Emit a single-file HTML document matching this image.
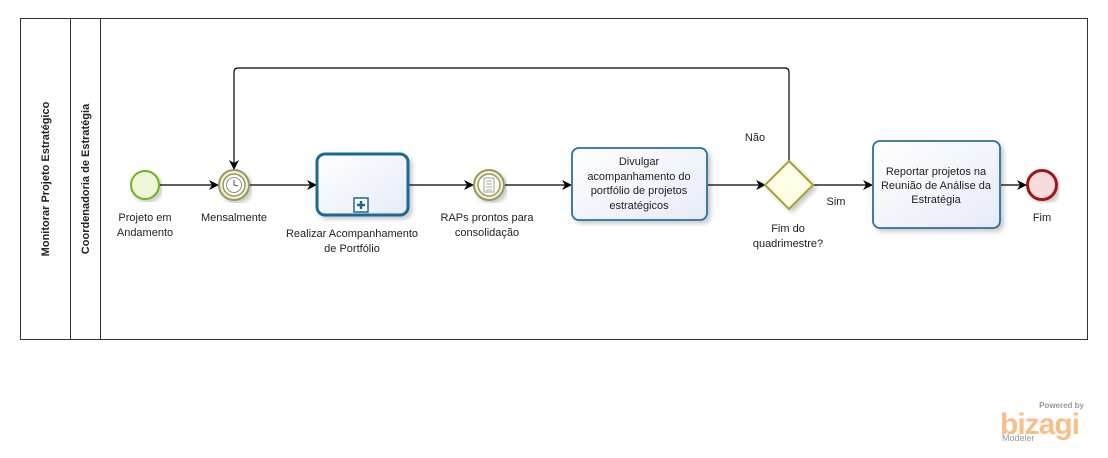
<!DOCTYPE html>
<html><head><meta charset="utf-8"><style>
body{margin:0;background:#fff;width:1108px;height:453px;overflow:hidden}
svg text{font-family:"Liberation Sans","DejaVu Sans",sans-serif;font-size:11px;fill:#222}
</style></head><body>
<svg width="1108" height="453" xmlns="http://www.w3.org/2000/svg">
<defs>
<marker id="a" markerWidth="10" markerHeight="10" refX="9" refY="5" orient="auto" markerUnits="userSpaceOnUse"><path d="M0,0 L10,5 L0,10 L3,5 Z" fill="#000"/></marker>
<linearGradient id="t" x1="0" y1="0" x2="1" y2="1"><stop offset="0" stop-color="#fff"/><stop offset="1" stop-color="#e6ebf8"/></linearGradient>
<filter id="s"><feDropShadow dx="3" dy="3" stdDeviation="2" flood-opacity="0.2"/></filter>
</defs>
<rect x="20.5" y="18.5" width="1067" height="321" fill="#fff" stroke="#333"/>
<line x1="70.5" y1="18" x2="70.5" y2="340" stroke="#333"/>
<line x1="100.5" y1="18" x2="100.5" y2="340" stroke="#333"/>
<text transform="translate(49,179) rotate(-90)" text-anchor="middle" font-weight="bold" style="font-size:11px">Monitorar Projeto Estratégico</text>
<text transform="translate(89,179) rotate(-90)" text-anchor="middle" font-weight="bold" style="font-size:11px">Coordenadoria de Estratégia</text>
<g stroke="#000" stroke-width="1.2" fill="none">
<line x1="160" y1="185" x2="218" y2="185" marker-end="url(#a)"/>
<line x1="250" y1="185" x2="316" y2="185" marker-end="url(#a)"/>
<line x1="409" y1="185" x2="473" y2="185" marker-end="url(#a)"/>
<line x1="505" y1="185" x2="571" y2="185" marker-end="url(#a)"/>
<line x1="708" y1="185" x2="765" y2="185" marker-end="url(#a)"/>
<line x1="813" y1="185" x2="872" y2="185" marker-end="url(#a)"/>
<line x1="1001" y1="185" x2="1026" y2="185" marker-end="url(#a)"/>
<path d="M789,161 V72 Q789,68 785,68 H238 Q234,68 234,72 V169" marker-end="url(#a)"/>
</g>
<circle cx="145" cy="185" r="14" fill="#eef8d8" stroke="#6bb31e" stroke-width="2" filter="url(#s)"/>
<g filter="url(#s)"><circle cx="234" cy="185" r="15" fill="#f2efd8" stroke="#9a9860" stroke-width="2"/></g>
<circle cx="234" cy="185" r="11" fill="#fff" stroke="#9a9860" stroke-width="1.5"/>
<circle cx="234" cy="185" r="7.5" fill="#fff" stroke="#777" stroke-width="0.8"/>
<path d="M234,180 V185 L238,186" stroke="#555" fill="none"/>
<rect x="317" y="154" width="91" height="61" rx="8" fill="url(#t)" stroke="#1d6796" stroke-width="3" filter="url(#s)"/>
<rect x="354" y="198" width="14" height="14" fill="#fff" stroke="#1d6796" stroke-width="1.5"/>
<path d="M361,201 V209 M357,205 H365" stroke="#1d6796" stroke-width="2.5"/>
<g filter="url(#s)"><circle cx="489" cy="185" r="15" fill="#f2efd8" stroke="#9a9860" stroke-width="2"/></g>
<circle cx="489" cy="185" r="11" fill="#fff" stroke="#9a9860" stroke-width="1.5"/>
<rect x="484" y="178" width="10" height="14" fill="#fff" stroke="#888" stroke-width="0.8"/>
<path d="M486,181H492M486,184H492M486,187H492M486,190H492" stroke="#888" stroke-width="0.7"/>
<rect x="572" y="148" width="135" height="72" rx="7" fill="url(#t)" stroke="#2a6fa0" stroke-width="1.8" filter="url(#s)"/>
<path d="M789,161 L813,185 L789,209 L765,185 Z" fill="#fefde6" stroke="#a8a030" stroke-width="2" filter="url(#s)"/>
<rect x="873" y="141" width="127" height="87" rx="7" fill="url(#t)" stroke="#2a6fa0" stroke-width="1.8" filter="url(#s)"/>
<circle cx="1042" cy="185" r="14.5" fill="#f6dcdc" stroke="#a01818" stroke-width="3" filter="url(#s)"/>
<g text-anchor="middle">
<text x="145" y="221">Projeto em</text><text x="145" y="236">Andamento</text>
<text x="234" y="221">Mensalmente</text>
<text x="352" y="237">Realizar Acompanhamento</text><text x="352" y="252">de Portfólio</text>
<text x="487" y="221">RAPs prontos para</text><text x="487" y="236">consolidação</text>
<text x="639" y="165">Divulgar</text><text x="639" y="180">acompanhamento do</text><text x="639" y="194">portfólio de projetos</text><text x="639" y="209">estratégicos</text>
<text x="755" y="141">Não</text>
<text x="836" y="205">Sim</text>
<text x="788" y="232">Fim do</text><text x="788" y="247">quadrimestre?</text>
<text x="936" y="175">Reportar projetos na</text><text x="936" y="189">Reunião de Análise da</text><text x="936" y="203">Estratégia</text>
<text x="1042" y="221">Fim</text>
</g>
<text x="1084" y="408" text-anchor="end" style="font-size:8px;fill:#999;font-weight:bold">Powered by</text>
<text x="1000" y="434" style="font-size:30px;fill:#f5c08a;font-weight:bold;letter-spacing:-1px">bizagi</text>
<text x="1002" y="441" style="font-size:9px;fill:#999">Modeler</text>
</svg>
</body></html>
